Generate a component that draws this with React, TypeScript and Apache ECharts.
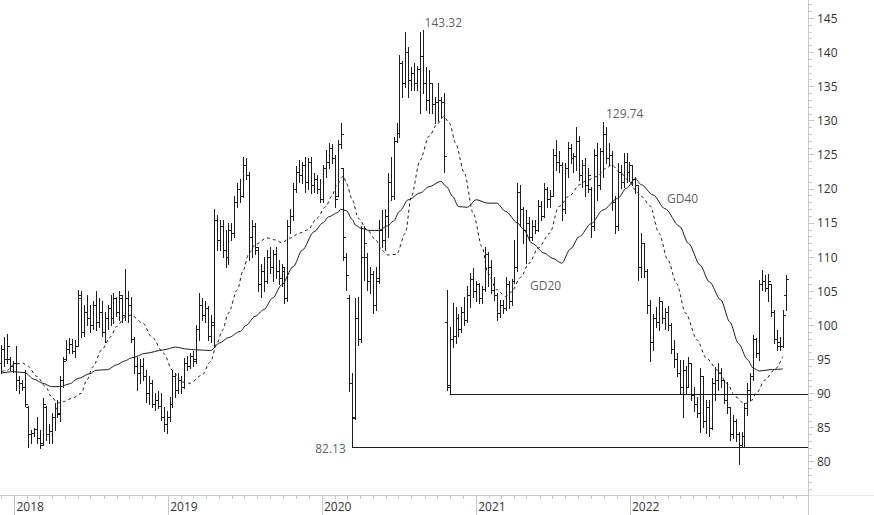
import React, { useEffect, useRef } from "react";
import * as echarts from "echarts";

// ---------- data ----------
// weekly bars, first bar dated 2017-12-01, one bar per week
const FIRST_WEEK = "2017-12-01";

const weekOpen = [
  94.5, 96.5, 95.0, 95.0, 94.0, 94.5, 92.0, 91.5, 91.0, 88.0, 84.0, 84.2, 84.8, 83.5, 82.8, 88.0, 84.0, 84.5, 86.5, 87.8,
  87.0, 92.0, 95.0, 96.5, 97.2, 96.2, 97.0, 104.0, 99.0, 102.0, 101.0, 100.0, 103.0, 100.5, 102.0, 99.0, 101.0, 102.5, 101.0, 104.0,
  102.0, 104.0, 101.5, 104.0, 103.0, 98.0, 94.0, 93.0, 94.0, 92.5, 90.0, 91.5, 88.5, 89.0, 88.2, 86.5, 85.5, 86.5, 88.5, 92.5,
  90.5, 92.0, 91.0, 94.5, 94.0, 95.5, 95.0, 99.5, 103.0, 101.5, 102.5, 98.5, 100.0, 115.5, 112.5, 114.5, 111.0, 110.0, 114.0, 113.5,
  118.0, 120.0, 119.0, 123.5, 122.0, 113.0, 114.5, 111.0, 106.0, 108.0, 106.5, 110.0, 108.5, 110.5, 108.0, 107.0, 108.0, 104.0, 114.5, 116.0,
  120.0, 122.5, 122.0, 123.5, 121.0, 124.0, 120.5, 121.5, 120.0, 118.5, 123.0, 124.0, 126.0, 124.5, 119.0, 126.5, 123.0, 110.0, 104.0, 91.5,
  86.5, 101.0, 98.0, 110.0, 110.0, 106.5, 107.5, 103.0, 106.5, 114.0, 112.5, 116.0, 121.0, 119.0, 127.0, 128.2, 138.5, 135.5, 140.0, 136.0,
  137.0, 135.5, 137.5, 139.5, 135.5, 133.0, 135.5, 132.5, 132.8, 133.0, 132.8, 100.5, 91.3, 98.0, 98.5, 101.0, 99.5, 102.0, 100.8, 104.5,
  106.8, 105.0, 106.0, 104.0, 105.3, 110.5, 108.5, 105.2, 104.5, 101.8, 103.0, 102.5, 106.0, 103.5, 106.5, 108.5, 119.5, 117.0, 114.0, 115.0,
  113.0, 114.5, 114.0, 117.5, 116.0, 120.0, 118.5, 119.0, 125.0, 124.0, 123.5, 117.0, 123.0, 126.0, 124.5, 124.8, 127.0, 122.0, 123.5, 120.5,
  120.0, 114.5, 125.0, 120.5, 125.5, 128.0, 124.5, 125.0, 118.0, 114.5, 122.5, 121.0, 124.0, 122.5, 123.5, 121.5, 120.5, 108.5, 112.0, 108.0,
  103.0, 97.5, 101.0, 100.5, 103.5, 101.0, 102.0, 100.0, 96.5, 95.0, 93.0, 91.0, 93.5, 91.0, 94.5, 89.8, 88.5, 87.2, 92.5, 86.0,
  88.0, 85.0, 91.5, 92.0, 93.0, 92.0, 89.0, 88.0, 84.0, 86.0, 84.0, 82.5, 83.8, 87.8, 90.5, 92.5, 98.0, 96.0, 106.0, 106.5,
  105.5, 106.0, 102.0, 98.0, 97.5, 97.0, 104.4,
];

const weekHigh = [
  97.1, 98.3, 98.7, 95.4, 94.7, 96.9, 92.5, 92.0, 93.5, 88.1, 84.6, 85.0, 86.6, 84.6, 89.3, 88.2, 85.6, 87.1, 88.6, 89.0,
  92.5, 95.4, 97.8, 98.1, 98.0, 97.8, 105.2, 105.0, 103.0, 104.5, 103.0, 103.5, 105.0, 104.0, 103.5, 102.0, 103.0, 104.5, 104.7, 104.2,
  105.0, 104.5, 108.3, 105.0, 104.2, 98.3, 95.4, 95.0, 95.2, 93.4, 92.5, 92.0, 90.0, 90.3, 90.0, 88.0, 87.5, 89.5, 93.4, 93.0,
  93.0, 92.5, 95.2, 95.5, 96.0, 96.2, 100.0, 104.7, 104.0, 103.5, 102.8, 101.5, 117.0, 116.2, 115.5, 115.5, 114.0, 115.0, 115.0, 118.9,
  120.8, 121.5, 124.7, 124.5, 122.5, 115.5, 115.0, 111.5, 109.0, 110.0, 111.0, 111.5, 111.0, 111.5, 109.6, 109.0, 108.5, 115.4, 117.0, 120.8,
  123.3, 124.2, 124.0, 124.7, 124.5, 124.7, 122.3, 122.0, 121.5, 123.5, 125.7, 126.7, 126.5, 125.0, 127.2, 129.6, 123.1, 110.6, 104.4, 93.0,
  104.0, 104.2, 114.5, 114.5, 110.6, 108.6, 108.0, 108.6, 115.4, 116.9, 117.0, 122.3, 124.6, 127.6, 129.6, 139.6, 138.8, 143.0, 140.8, 137.9,
  138.4, 138.0, 143.0, 143.32, 137.9, 137.4, 135.5, 133.5, 135.5, 133.5, 134.0, 105.2, 99.8, 103.2, 102.7, 101.7, 102.7, 104.2, 105.7, 107.6,
  108.4, 106.5, 106.2, 105.7, 111.5, 110.8, 109.6, 107.1, 104.7, 103.7, 103.7, 107.1, 106.5, 106.8, 112.5, 120.8, 120.5, 117.4, 116.9, 115.9,
  115.5, 115.4, 118.4, 118.2, 120.8, 120.2, 119.8, 125.9, 127.2, 125.5, 124.0, 123.8, 126.9, 126.5, 125.2, 129.1, 127.7, 124.2, 124.5, 123.0,
  120.3, 125.9, 126.7, 126.0, 129.74, 129.1, 126.7, 125.5, 119.0, 123.8, 123.5, 125.2, 125.2, 124.0, 123.5, 121.8, 120.5, 113.5, 112.0, 108.2,
  103.7, 101.7, 102.7, 104.2, 103.5, 102.5, 102.8, 100.3, 97.8, 96.0, 94.9, 94.9, 94.0, 95.4, 94.5, 91.0, 89.5, 93.7, 92.5, 89.0,
  89.0, 92.2, 93.9, 94.4, 93.7, 92.0, 91.7, 88.0, 86.8, 86.2, 84.4, 84.4, 88.6, 91.5, 93.0, 98.6, 98.1, 106.6, 108.1, 107.4,
  107.5, 106.1, 102.2, 99.3, 98.3, 102.2, 107.3,
];

const weekLow = [
  93.0, 94.0, 94.4, 93.5, 93.2, 90.5, 90.0, 90.5, 88.1, 82.2, 82.7, 83.7, 82.7, 82.0, 82.5, 83.2, 82.7, 82.7, 84.6, 86.6,
  85.9, 91.0, 94.9, 95.9, 95.9, 95.4, 96.9, 98.3, 98.5, 100.0, 99.0, 99.5, 99.3, 99.8, 98.5, 97.5, 99.5, 100.0, 100.3, 101.3,
  100.8, 100.5, 100.8, 100.5, 97.5, 93.0, 90.5, 91.5, 92.0, 88.8, 88.5, 88.0, 87.6, 87.8, 86.1, 84.5, 84.2, 86.0, 88.0, 89.5,
  90.0, 90.0, 90.8, 93.4, 93.8, 94.0, 94.5, 97.8, 100.8, 100.5, 97.8, 97.5, 97.0, 111.0, 111.0, 110.0, 108.6, 109.0, 112.5, 113.0,
  117.4, 118.0, 118.8, 121.5, 109.6, 110.0, 110.5, 105.0, 104.2, 105.0, 106.2, 107.6, 106.5, 107.0, 106.0, 105.7, 103.2, 103.5, 113.5, 115.5,
  119.5, 121.0, 120.8, 119.5, 120.0, 119.4, 119.5, 119.4, 118.0, 118.0, 121.8, 123.0, 123.8, 117.4, 119.0, 126.0, 109.6, 105.2, 90.3, 82.13,
  86.2, 97.1, 97.5, 106.6, 105.2, 104.7, 101.8, 102.3, 106.2, 111.5, 111.0, 113.0, 118.3, 118.5, 126.8, 127.6, 133.5, 134.9, 133.5, 134.5,
  134.5, 134.5, 131.1, 134.0, 131.5, 131.1, 131.1, 129.6, 130.0, 130.5, 122.5, 90.5, 89.92, 96.8, 97.4, 98.5, 99.0, 100.0, 100.5, 102.7,
  104.2, 103.5, 103.2, 103.2, 105.0, 105.7, 104.7, 103.7, 100.8, 101.2, 101.8, 102.3, 102.5, 103.0, 106.2, 108.0, 114.5, 112.0, 109.1, 112.5,
  112.5, 113.5, 113.8, 115.4, 115.8, 117.4, 117.4, 118.9, 122.8, 122.5, 115.4, 116.5, 121.8, 123.8, 122.5, 122.8, 121.3, 120.3, 119.0, 119.5,
  113.0, 114.0, 118.4, 120.0, 121.8, 123.8, 123.5, 116.9, 113.5, 114.0, 120.1, 120.3, 121.0, 121.2, 120.6, 119.4, 106.6, 107.1, 107.1, 101.8,
  94.7, 96.4, 99.8, 99.3, 100.3, 99.5, 99.3, 95.9, 93.9, 92.5, 90.0, 86.6, 90.0, 91.0, 89.1, 87.5, 86.6, 84.4, 85.1, 84.2,
  83.7, 84.8, 89.0, 90.5, 91.0, 88.6, 87.1, 83.2, 83.5, 83.0, 79.7, 82.2, 82.2, 86.8, 89.0, 92.0, 95.4, 94.9, 105.2, 105.0,
  103.5, 101.3, 97.4, 96.4, 96.4, 96.8, 102.2,
];

const weekClose = [
  96.5, 95.0, 97.0, 94.0, 94.5, 92.0, 91.5, 91.0, 88.5, 84.0, 84.2, 84.8, 83.5, 82.5, 88.5, 84.0, 84.5, 86.5, 87.8, 87.2,
  92.0, 94.8, 96.5, 97.2, 96.2, 97.0, 104.5, 99.0, 102.0, 101.0, 100.0, 103.0, 100.5, 102.0, 99.0, 101.0, 102.5, 101.0, 104.0, 102.0,
  104.5, 101.5, 104.0, 103.0, 98.0, 94.0, 93.0, 94.0, 92.5, 90.0, 91.5, 88.5, 89.0, 88.2, 86.5, 85.5, 86.5, 88.5, 92.5, 90.5,
  92.0, 91.0, 94.5, 94.0, 95.5, 94.8, 99.5, 103.0, 101.5, 102.5, 98.5, 100.5, 115.5, 112.5, 114.5, 111.0, 110.0, 114.0, 113.5, 118.0,
  120.0, 119.0, 123.5, 122.0, 113.0, 114.5, 111.5, 106.0, 108.0, 106.5, 110.0, 108.5, 110.5, 108.0, 107.0, 108.5, 104.0, 114.5, 116.0, 120.0,
  122.5, 122.0, 123.5, 121.0, 124.0, 120.5, 121.5, 120.0, 118.5, 123.0, 124.0, 126.0, 124.5, 118.5, 126.5, 128.0, 113.0, 107.4, 91.5, 86.4,
  101.0, 98.0, 110.0, 112.0, 106.5, 107.5, 103.0, 107.0, 114.0, 112.5, 116.0, 121.0, 119.0, 127.0, 128.2, 138.5, 135.5, 140.0, 136.0, 137.0,
  135.5, 137.5, 139.5, 135.5, 133.0, 135.5, 132.5, 132.8, 133.0, 132.8, 124.8, 91.0, 98.0, 98.5, 101.0, 99.5, 102.0, 100.8, 104.5, 106.8,
  105.0, 106.0, 104.0, 105.3, 110.5, 108.5, 105.2, 104.5, 101.8, 103.0, 102.5, 106.0, 103.5, 106.5, 108.5, 119.5, 117.0, 114.0, 115.0, 113.0,
  114.5, 114.0, 117.5, 116.0, 120.0, 118.5, 119.0, 125.0, 124.0, 123.5, 117.0, 123.0, 126.0, 124.5, 124.8, 127.0, 122.0, 123.5, 120.5, 122.0,
  114.5, 125.0, 120.5, 125.5, 128.0, 124.5, 125.0, 118.0, 114.5, 122.5, 121.0, 124.0, 122.5, 123.5, 121.5, 120.5, 108.5, 112.0, 108.0, 103.0,
  97.5, 101.0, 100.5, 103.5, 101.0, 102.0, 100.0, 96.5, 95.0, 93.0, 91.0, 93.5, 91.0, 94.5, 89.8, 88.5, 87.2, 92.5, 86.0, 88.0,
  85.0, 91.5, 92.0, 93.0, 92.0, 89.0, 88.0, 84.0, 86.0, 84.0, 82.5, 83.8, 87.8, 90.5, 92.5, 98.0, 96.0, 106.0, 106.5, 105.5,
  106.5, 102.0, 98.0, 97.0, 97.0, 101.5, 106.8,
];

// moving averages: [week number, value]
const gd20 = [
  [0, 93.2], [2, 93.4], [4, 94.2], [7, 94.5], [9, 94.0], [12, 92.5], [15, 91.0], [17, 89.5], [19, 88.6], [21, 88.8],
  [24, 89.3], [27, 90.0], [29, 92.0], [31, 93.9], [34, 96.4], [37, 98.3], [39, 99.8], [42, 101.2], [44, 101.5], [48, 100.3],
  [51, 98.3], [55, 95.9], [58, 93.4], [61, 91.7], [64, 91.5], [68, 92.7], [71, 94.7], [73, 97.3], [75, 99.3], [77, 101.8],
  [80, 105.2], [82, 108.1], [84, 110.6], [86, 111.8], [90, 112.8], [93, 112.5], [95, 112.1], [98, 112.8], [101, 113.5], [104, 114.0],
  [107, 115.7], [110, 117.4], [112, 118.9], [114, 120.8], [116, 121.9], [117, 120.8], [119, 118.4], [121, 115.7], [124, 114.0], [127, 112.5],
  [129, 111.0], [131, 110.3], [134, 110.4], [137, 113.5], [139, 118.9], [142, 124.2], [145, 127.7], [148, 129.6], [150, 130.6], [152, 129.6],
  [154, 126.7], [157, 122.3], [160, 116.4], [163, 111.5], [165, 107.6], [168, 105.2], [171, 104.2], [173, 104.9], [176, 107.0], [179, 109.1],
  [182, 111.3], [186, 113.5], [189, 117.4], [193, 119.1], [196, 120.6], [198, 121.1], [202, 121.8], [205, 123.0], [207, 123.5], [210, 122.3],
  [213, 121.1], [215, 119.8], [217, 118.9], [220, 117.5], [223, 113.5], [226, 109.6], [229, 106.1], [232, 101.8], [236, 97.8], [239, 95.2],
  [243, 93.4], [246, 91.5], [249, 89.5], [252, 88.5], [254, 88.8], [256, 90.0], [259, 92.0], [262, 93.4], [265, 95.4],
];

const gd40 = [
  [0, 93.0], [4, 93.2], [8, 93.05], [11, 92.1], [14, 91.5], [17, 91.0], [20, 91.0], [23, 91.4], [26, 92.2], [30, 92.9],
  [32, 93.4], [36, 93.5], [39, 94.2], [42, 94.8], [44, 95.2], [49, 95.9], [55, 96.4], [59, 96.8], [63, 96.5], [66, 96.4],
  [71, 96.3], [74, 97.4], [77, 98.2], [81, 99.1], [83, 100.0], [86, 101.3], [89, 102.3], [92, 104.0], [95, 105.9], [99, 108.6],
  [102, 111.0], [106, 113.7], [109, 115.0], [111, 115.9], [114, 116.5], [115, 117.0], [117, 116.8], [119, 115.5], [120, 114.7], [122, 114.2],
  [125, 113.9], [128, 113.9], [131, 114.6], [133, 115.3], [135, 116.7], [138, 118.4], [142, 119.4], [145, 120.3], [149, 121.1], [151, 120.3],
  [153, 118.9], [155, 117.4], [158, 117.3], [161, 118.4], [165, 117.9], [168, 117.9], [171, 116.7], [175, 115.0], [177, 114.1], [180, 112.0],
  [184, 110.6], [187, 109.8], [190, 109.1], [193, 111.2], [196, 113.0], [200, 114.9], [204, 116.9], [209, 118.6], [212, 120.1], [215, 121.5],
  [217, 120.6], [221, 119.1], [225, 117.1], [230, 114.5], [233, 112.0], [237, 108.8], [240, 106.4], [244, 103.7], [247, 100.5], [250, 97.3],
  [253, 95.0], [255, 93.7], [257, 93.3], [261, 93.5], [265, 93.6],
];

const yearLabels = [2018, 2019, 2020, 2021, 2022];
const priceLabels = [80, 85, 90, 95, 100, 105, 110, 115, 120, 125, 130, 135, 140, 145];

// horizontal support lines: start week and level
const supportLevels = [
  { week: 119, value: 82.13 },
  { week: 152, value: 89.92 },
];

// annotations: anchor week, value, text
const notes = [
  { week: 143, value: 143.32, text: "143.32" },
  { week: 204, value: 129.74, text: "129.74" },
  { week: 119, value: 82.13, text: "82.13" },
  { week: 179, value: 105.9, text: "GD20" },
  { week: 226, value: 118.6, text: "GD40" },
];

// ---------- layout / style ----------
const W = 874;
const H = 515;
const FONT = "'Open Sans', 'Noto Sans', sans-serif";
const INK = "#1c1c1c";
const TEXT = "#333333";
const AXIS = "#c8c8c8";
const DAY = 86400000;
const T2018 = Date.UTC(2018, 0, 1);
const X_MIN = T2018 - 34.4 * DAY;
const X_MAX = T2018 + 1883.8 * DAY;
const Y_MIN = 75.12;
const Y_MAX = 147.68;

const notePlacement: Record<string, { pos: [number, number]; align: "left" | "right" }> = {
  "143.32": { pos: [2, -7], align: "left" },
  "129.74": { pos: [3.5, -8.5], align: "left" },
  "82.13": { pos: [-6, 1.5], align: "right" },
  GD20: { pos: [1.3, 0.5], align: "left" },
  GD40: { pos: [-0.3, 0.5], align: "left" },
};

function weekTime(i: number): number {
  const [y, m, d] = FIRST_WEEK.split("-").map(Number);
  return Date.UTC(y, m - 1, d) + i * 7 * DAY;
}

function buildOption(): any {
  const n = Math.min(weekOpen.length, weekHigh.length, weekLow.length, weekClose.length);
  const bars: number[][] = [];
  for (let i = 0; i < n; i++) {
    bars.push([weekTime(i), weekOpen[i], weekHigh[i], weekLow[i], weekClose[i]]);
  }

  const monthTicks: number[] = [];
  for (let y = 2017; y <= 2023; y++) {
    for (let m = 0; m < 12; m++) {
      const t = Date.UTC(y, m, 1);
      if (t > X_MIN && t < X_MAX) monthTicks.push(t);
    }
  }
  const yearTicks = yearLabels.map((y) => Date.UTC(y, 0, 1));
  const minorPrice: number[] = [];
  for (let v = Math.ceil(Y_MIN); v <= Math.floor(Y_MAX); v++) minorPrice.push(v);

  const renderItem = (params: any, api: any) => {
    const t = api.value(0);
    const pO = api.coord([t, api.value(1)]);
    const pH = api.coord([t, api.value(2)]);
    const pL = api.coord([t, api.value(3)]);
    const pC = api.coord([t, api.value(4)]);
    const x = Math.round(pH[0]) + 0.5;
    const yO = Math.round(pO[1]) + 0.5;
    const yC = Math.round(pC[1]) + 0.5;
    const style = { stroke: INK, lineWidth: 1, fill: null };
    return {
      type: "group",
      children: [
        { type: "line", shape: { x1: x, y1: Math.round(pH[1]), x2: x, y2: Math.round(pL[1]) + 1 }, style },
        { type: "line", shape: { x1: x - 2.5, y1: yO, x2: x, y2: yO }, style },
        { type: "line", shape: { x1: x, y1: yC, x2: x + 2.5, y2: yC }, style },
      ],
    };
  };

  return {
    animation: false,
    backgroundColor: "#ffffff",
    grid: {
      left: 0,
      right: W - 808,
      top: 0,
      bottom: 20,
      containLabel: false,
      outerBoundsMode: "none",
    },
    xAxis: [
      {
        type: "value",
        position: "bottom",
        min: X_MIN,
        max: X_MAX,
        axisLine: { show: true, onZero: false, lineStyle: { color: AXIS, width: 1 } },
        axisTick: { show: true, customValues: monthTicks, length: 4, lineStyle: { color: AXIS } },
        axisLabel: { show: false },
        splitLine: { show: false },
      },
      {
        type: "value",
        position: "bottom",
        min: X_MIN,
        max: X_MAX,
        axisLine: { show: false, onZero: false },
        axisTick: { show: true, customValues: [...yearTicks, X_MAX], length: 20, lineStyle: { color: AXIS } },
        axisLabel: {
          show: true,
          customValues: yearTicks,
          formatter: (v: number) => String(new Date(v).getUTCFullYear()),
          align: "left",
          padding: [0, 0, 0, 2],
          margin: 5,
          color: TEXT,
          fontSize: 12,
          fontFamily: FONT,
        },
        splitLine: { show: false },
      },
    ],
    yAxis: [
      {
        type: "value",
        position: "right",
        min: Y_MIN,
        max: Y_MAX,
        axisLine: { show: true, onZero: false, lineStyle: { color: AXIS, width: 1 } },
        axisTick: { show: true, customValues: minorPrice, length: 4, lineStyle: { color: AXIS } },
        axisLabel: { show: false },
        splitLine: { show: false },
      },
      {
        type: "value",
        position: "right",
        min: Y_MIN,
        max: Y_MAX,
        axisLine: { show: false, onZero: false },
        axisTick: { show: true, customValues: priceLabels, length: 6, lineStyle: { color: AXIS } },
        axisLabel: {
          show: true,
          customValues: priceLabels,
          margin: 9,
          color: TEXT,
          fontSize: 12,
          fontFamily: FONT,
        },
        splitLine: { show: false },
      },
    ],
    graphic: [
      {
        type: "line",
        shape: { x1: 808, y1: 495.5, x2: W, y2: 495.5 },
        style: { stroke: "#e8e8e8", lineWidth: 1 },
        silent: true,
      },
    ],
    series: [
      {
        type: "custom",
        name: "OHLC",
        xAxisIndex: 0,
        yAxisIndex: 0,
        data: bars,
        encode: { x: 0, y: [1, 2, 3, 4] },
        renderItem,
        clip: true,
        silent: true,
        z: 3,
      },
      {
        type: "line",
        name: "GD40",
        xAxisIndex: 0,
        yAxisIndex: 0,
        data: gd40.map(([w, v]) => [weekTime(w), v]),
        showSymbol: false,
        smooth: 0.3,
        smoothMonotone: "x",
        lineStyle: { color: INK, width: 1, type: "solid" },
        silent: true,
        z: 2,
        markLine: {
          silent: true,
          symbol: ["none", "none"],
          label: { show: false },
          lineStyle: { color: INK, width: 1, type: "solid" },
          data: supportLevels.map((s) => [
            { coord: [weekTime(s.week), s.value] },
            { coord: [X_MAX, s.value] },
          ]),
        },
      },
      {
        type: "line",
        name: "GD20",
        xAxisIndex: 0,
        yAxisIndex: 0,
        data: gd20.map(([w, v]) => [weekTime(w), v]),
        showSymbol: false,
        smooth: 0.3,
        smoothMonotone: "x",
        lineStyle: { color: INK, width: 1, type: [3, 3] },
        silent: true,
        z: 2,
      },
      {
        type: "scatter",
        name: "notes",
        xAxisIndex: 0,
        yAxisIndex: 0,
        symbol: "circle",
        symbolSize: 1,
        itemStyle: { color: "rgba(0,0,0,0)" },
        silent: true,
        z: 5,
        data: notes.map((nt) => {
          const p = notePlacement[nt.text];
          return {
            value: [weekTime(nt.week), nt.value],
            label: {
              show: true,
              formatter: nt.text,
              position: p.pos,
              align: p.align,
              verticalAlign: "middle",
              color: TEXT,
              fontSize: 12,
              fontFamily: FONT,
            },
          };
        }),
      },
    ],
  };
}

export default function App() {
  const ref = useRef<HTMLDivElement>(null);
  useEffect(() => {
    if (!ref.current) return;
    const chart = echarts.init(ref.current, undefined, { renderer: "svg" });
    chart.setOption(buildOption());
    return () => {
      chart.dispose();
    };
  }, []);
  return (
    <div
      ref={ref}
      style={{ position: "fixed", left: 0, top: 0, width: W, height: H, background: "#ffffff" }}
    />
  );
}
